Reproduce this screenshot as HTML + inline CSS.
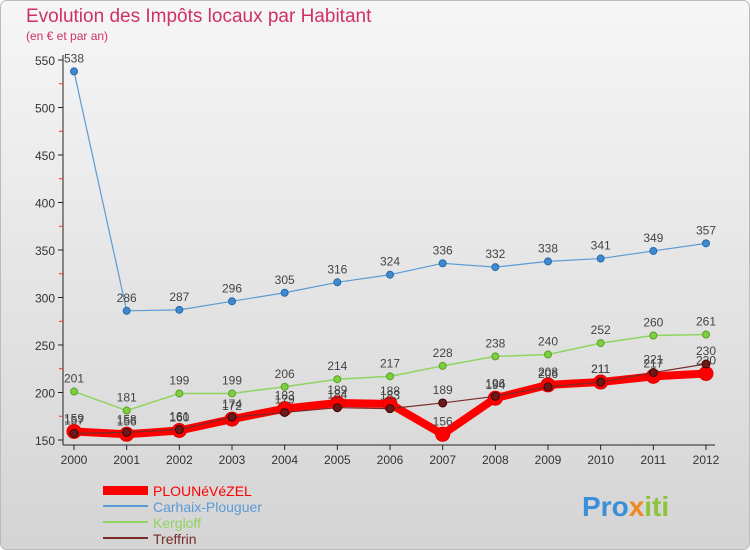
<!DOCTYPE html>
<html><head><meta charset="utf-8"><style>
body{margin:0;width:750px;height:550px;overflow:hidden;font-family:"Liberation Sans",sans-serif}
svg{display:block}
</style></head><body>
<svg id="c" width="750" height="550">
<defs><linearGradient id="bg" x1="0" y1="0" x2="0" y2="1"><stop offset="0" stop-color="#f6f6f6"/><stop offset="1" stop-color="#d4d4d4"/></linearGradient></defs>
<rect x="0.5" y="0.5" width="749" height="549" rx="6" fill="url(#bg)" stroke="#bbb"/>
<text x="26" y="22" font-size="19" fill="#d0306a">Evolution des Impôts locaux par Habitant</text>
<text x="26" y="40" font-size="12" fill="#d0306a">(en € et par an)</text>
<g id="axes"></g><g id="series"></g>
<g>
<rect x="103" y="486" width="45" height="9" fill="#ff0000"/>
<text x="153" y="496" font-size="14" fill="#ff0000">PLOUNéVéZEL</text>
<rect x="103" y="505" width="45" height="2" fill="#5b9bd5"/>
<text x="153" y="512" font-size="14" fill="#5b9bd5">Carhaix-Plouguer</text>
<rect x="103" y="521" width="45" height="2" fill="#8fd460"/>
<text x="153" y="528" font-size="14" fill="#8fd460">Kergloff</text>
<rect x="103" y="537" width="45" height="2" fill="#7a2a2a"/>
<text x="153" y="544" font-size="14" fill="#7a2a2a">Treffrin</text>
</g>
<text x="582" y="516" font-size="28" font-weight="bold" fill="#3a8fd8">Pro<tspan fill="#f08a20">x</tspan><tspan fill="#8fc43a">iti</tspan></text>
</svg>
<script>
const years=[2000,2001,2002,2003,2004,2005,2006,2007,2008,2009,2010,2011,2012];
const carhaix=[538,286,287,296,305,316,324,336,332,338,341,349,357];
const kergloff=[201,181,199,199,206,214,217,228,238,240,252,260,261];
const plounevezel=[159,156,160,172,183,189,188,156,194,208,211,217,220];
const treffrin=[157,158,161,174,179,184,183,189,196,206,211,221,230];
const yTicks=[150,200,250,300,350,400,450,500,550];
const NS="http://www.w3.org/2000/svg";
function X(i){return 74+i*(706-74)/(years.length-1);}
function Y(v){return 440-(v-150)*(380/400);}
function mk(t,a,p){const e=document.createElementNS(NS,t);for(const k in a)e.setAttribute(k,a[k]);p.appendChild(e);return e;}
const ax=document.getElementById('axes'),sg=document.getElementById('series');
let l=mk('line',{x1:63,y1:55,x2:63,y2:445,stroke:'#222'},ax);


l=mk('line',{x1:63,y1:445,x2:715,y2:445,stroke:'#222'},ax);


yTicks.forEach(v=>{const y=Y(v);
 mk('line',{x1:58,y1:y,x2:63,y2:y,stroke:'#222'},ax);
 if(v<550) mk('line',{x1:59,y1:Y(v+25),x2:63,y2:Y(v+25),stroke:'#e33'},ax);
 const t=mk('text',{x:55,y:y+5,'font-size':12,fill:'#333','text-anchor':'end'},ax);t.textContent=v;
 
 });
years.forEach((yr,i)=>{const x=X(i);
 mk('line',{x1:x,y1:445,x2:x,y2:450,stroke:'#222'},ax);
 const t=mk('text',{x:x,y:464,'font-size':12,fill:'#333','text-anchor':'middle'},ax);t.textContent=yr;
 
 });
function series(name,data,color,w,r,dot,stroke){
 const g=mk('g',{},sg);
 
 
 mk('polyline',{points:data.map((v,i)=>X(i)+','+Y(v)).join(' '),fill:'none',stroke:color,'stroke-width':w,'stroke-linejoin':'round'},g);
 data.forEach((v,i)=>{const c=mk('circle',{cx:X(i),cy:Y(v),r:r,fill:dot,stroke:stroke,'stroke-width':1},g);
  
  
  const t=mk('text',{x:X(i),y:Y(v)-9,'font-size':12,fill:'#444','text-anchor':'middle'},g);t.textContent=v;
  
  });
}
series('carhaix',carhaix,'#5b9bd5',1.2,3.5,'#3d8ad0','#2a6aa8');
series('kergloff',kergloff,'#8fd460',1.5,3.5,'#7ccf3e','#5aa02a');
series('plounevezel',plounevezel,'#ff0000',8,7,'#ff0000','#d00');
series('treffrin',treffrin,'#7a2a2a',1.2,4,'#6a1a1a','#400');
</script>
</body></html>
